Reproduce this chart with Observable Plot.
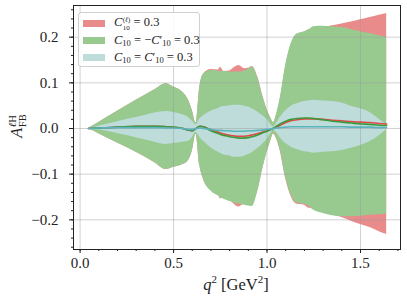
<!DOCTYPE html>
<html><head><meta charset="utf-8">
<script src="https://cdn.jsdelivr.net/npm/d3@7"></script>
<script src="https://cdn.jsdelivr.net/npm/@observablehq/plot@0.6"></script>
<style>
body{margin:0;background:#fff;}
#wrap{position:relative;width:407px;height:303px;font-family:"Liberation Serif","DejaVu Serif",serif;color:#222;overflow:hidden;}
#wrap svg{display:block;}
.leg{position:absolute;left:78px;top:12px;width:122px;height:55px;background:rgba(255,255,255,0.85);border:1px solid #d0d0d0;border-radius:3px;box-sizing:border-box;}
.row{position:absolute;left:4px;height:17px;display:flex;align-items:center;font-size:12.5px;white-space:nowrap;}
.patch{display:inline-block;width:22px;height:7px;margin-right:9px;}
.ss{display:inline-flex;flex-direction:column;vertical-align:middle;font-size:7px;line-height:8px;margin-left:0.5px;}
sub{font-size:8.5px;vertical-align:-2px;line-height:0;}
.xl{position:absolute;top:273px;text-align:center;font-size:16.5px;}
.yl{position:absolute;left:18px;top:126px;font-size:16.5px;transform:translate(-50%,-50%) rotate(-90deg);white-space:nowrap;}
</style></head><body><div id="wrap"></div>
<script>
// q^2 grid (GeV^2)
const q2 =    [0.045,0.1,0.2,0.3,0.4,0.46,0.5,0.55,0.58,0.6,0.62,0.64,0.66,0.7,0.74,0.75,0.77,0.8,0.82,0.85,0.88,0.9,0.92,0.95,0.98,1.0,1.02,1.035,1.05,1.07,1.1,1.13,1.16,1.2,1.22,1.25,1.3,1.35,1.4,1.45,1.5,1.55,1.6,1.64];
// half-widths of the uncertainty bands
const bandEll = [0,0.0124,0.035,0.057,0.080,0.094,0.088,0.079,0.066,0.045,0.012,0.085,0.115,0.132,0.136,0.144,0.137,0.141,0.148,0.155,0.148,0.148,0.150,0.125,0.075,0.047,0.025,0.012,0.025,0.055,0.123,0.167,0.185,0.189,0.195,0.197,0.201,0.207,0.212,0.218,0.224,0.230,0.237,0.242];
const bandMinus = [0,0.0124,0.035,0.057,0.080,0.094,0.088,0.079,0.066,0.045,0.012,0.085,0.115,0.132,0.137,0.138,0.140,0.142,0.143,0.145,0.147,0.150,0.153,0.125,0.075,0.047,0.025,0.012,0.025,0.055,0.123,0.167,0.185,0.189,0.192,0.201,0.205,0.207,0.207,0.205,0.202,0.199,0.196,0.193];
const bandPlus = [0,0.004,0.013,0.022,0.032,0.036,0.034,0.030,0.026,0.018,0.008,0.020,0.028,0.040,0.048,0.050,0.053,0.055,0.057,0.057,0.055,0.052,0.048,0.040,0.030,0.022,0.010,0.004,0.010,0.022,0.036,0.045,0.050,0.055,0.056,0.058,0.056,0.055,0.052,0.046,0.040,0.032,0.018,0.004];
// central values
const lineEll = [0,0.001,0.003,0.005,0.005,0.004,0.003,0.000,-0.004,-0.005,0.000,0.005,0.004,-0.003,-0.008,-0.010,-0.012,-0.015,-0.016,-0.017,-0.017,-0.016,-0.014,-0.011,-0.007,-0.005,-0.002,0.000,0.003,0.007,0.013,0.017,0.019,0.021,0.021,0.021,0.020,0.018,0.017,0.015,0.014,0.013,0.011,0.010];
const lineMinus = [0,0.001,0.003,0.005,0.005,0.004,0.003,0.000,-0.004,-0.005,0.000,0.005,0.004,-0.005,-0.011,-0.013,-0.015,-0.018,-0.019,-0.021,-0.021,-0.020,-0.018,-0.014,-0.009,-0.006,-0.002,0.001,0.005,0.010,0.016,0.020,0.022,0.023,0.023,0.022,0.019,0.016,0.014,0.012,0.010,0.009,0.007,0.0065];
const linePlus = [0,0.001,0.002,0.002,0.002,0.001,0.001,0.000,-0.002,-0.002,0.000,0.001,0.000,-0.002,-0.004,-0.004,-0.005,-0.005,-0.006,-0.006,-0.006,-0.005,-0.005,-0.004,-0.003,-0.002,-0.001,0.000,0.001,0.002,0.003,0.004,0.004,0.004,0.004,0.004,0.004,0.004,0.004,0.003,0.003,0.003,0.002,0.002];
const xTicks = [0, 0.5, 1.0, 1.5];
const yTicks = [-0.2, -0.1, 0, 0.1, 0.2];
const xMinor = d3.range(0, 18).map(i => i / 10);
const yMinor = d3.range(-13, 14).map(i => i / 50);

const colors = {ellF:"#e98b8b", minusF:"#98ca90", plusF:"#bddcda", ellL:"#e2474a", minusL:"#3a9a3a", plusL:"#5bb3bd"};
const serif = '"Liberation Serif","DejaVu Serif",serif';

const rows = q2.map((x, i) => ({x,
  eLo: lineEll[i] - bandEll[i], eHi: lineEll[i] + bandEll[i],
  mLo: lineMinus[i] - bandMinus[i], mHi: lineMinus[i] + bandMinus[i],
  pLo: linePlus[i] - bandPlus[i], pHi: linePlus[i] + bandPlus[i],
  e: lineEll[i], m: lineMinus[i], p: linePlus[i]}));

const fmt = d3.format(".1f");
const chart = Plot.plot({
  width: 407, height: 303,
  marginLeft: 73, marginRight: 7, marginTop: 5, marginBottom: 54,
  x: {domain: [-0.0353, 1.714]},
  y: {domain: [-0.265, 0.2694]},
  style: {fontFamily: serif, fontSize: "15px", color: "#222", background: "white"},
  marks: [
    Plot.areaY(rows, {x: "x", y1: "eLo", y2: "eHi", fill: colors.ellF, curve: "monotone-x"}),
    Plot.areaY(rows, {x: "x", y1: "mLo", y2: "mHi", fill: colors.minusF, curve: "monotone-x"}),
    Plot.areaY(rows, {x: "x", y1: "pLo", y2: "pHi", fill: colors.plusF, curve: "monotone-x"}),
    Plot.gridX(xTicks, {stroke: "#999", strokeOpacity: 0.45, strokeWidth: 1}),
    Plot.gridY(yTicks, {stroke: "#999", strokeOpacity: 0.45, strokeWidth: 1}),
    Plot.lineY(rows, {x: "x", y: "e", stroke: colors.ellL, strokeWidth: 1.6, curve: "monotone-x"}),
    Plot.lineY(rows, {x: "x", y: "m", stroke: colors.minusL, strokeWidth: 1.6, curve: "monotone-x"}),
    Plot.lineY(rows, {x: "x", y: "p", stroke: colors.plusL, strokeWidth: 1.6, curve: "monotone-x"}),
    Plot.axisX(xMinor, {tickSize: 2, tickFormat: () => "", label: null}),
    Plot.axisY(yMinor, {tickSize: 2, tickFormat: () => "", label: null}),
    Plot.axisX(xTicks, {tickSize: 4, tickPadding: 4, tickFormat: fmt, label: null, fontSize: 15}),
    Plot.axisY(yTicks, {tickSize: 4, tickPadding: 11, tickFormat: fmt, label: null, fontSize: 15}),
    Plot.frame({stroke: "#222", strokeWidth: 1})
  ]
});
const wrap = document.getElementById("wrap");
wrap.appendChild(chart);

const leg = document.createElement("div");
leg.className = "leg";
const entries = [
  {c: colors.ellF, h: '<i>C</i><span class="ss"><span>(<i>ℓ</i>)</span><span>10</span></span>&nbsp;= 0.3'},
  {c: colors.minusF, h: '<i>C</i><sub>10</sub>&nbsp;= −<i>C</i>′<sub>10</sub>&nbsp;= 0.3'},
  {c: colors.plusF, h: '<i>C</i><sub>10</sub>&nbsp;= <i>C</i>′<sub>10</sub>&nbsp;= 0.3'}
];
entries.forEach((e, i) => {
  const r = document.createElement("div");
  r.className = "row";
  r.style.top = (2 + i * 17) + "px";
  r.innerHTML = `<span class="patch" style="background:${e.c}"></span><span>${e.h}</span>`;
  leg.appendChild(r);
});
wrap.appendChild(leg);

const xl = document.createElement("div");
xl.className = "xl";
xl.style.left = "136px"; xl.style.width = "200px";
xl.innerHTML = '<i>q</i><sup style="font-size:11px">2</sup> [GeV<sup style="font-size:11px">2</sup>]';
wrap.appendChild(xl);

const yl = document.createElement("div");
yl.className = "yl";
yl.innerHTML = '<i>A</i><span class="ss" style="font-size:10.5px;line-height:10px"><span><i>ℓ</i>H</span><span>FB</span></span>';
wrap.appendChild(yl);
</script></body></html>
